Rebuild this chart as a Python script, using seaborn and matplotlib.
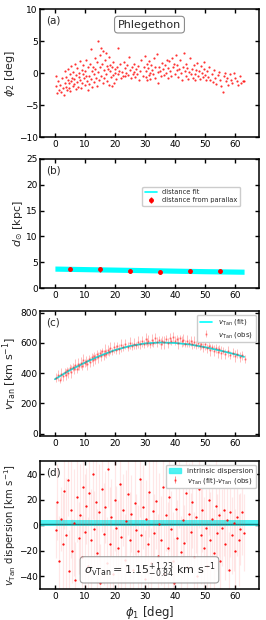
import numpy as np
import pandas as pd
import matplotlib
matplotlib.use("Agg")
import matplotlib.pyplot as plt
from matplotlib.lines import Line2D
from matplotlib.patches import Patch
import seaborn as sns

# ---- panel (a): stream track phi1 / phi2 (deg)
track_phi1 = [0.3, 0.5, 0.7, 1.0, 1.3, 1.6, 2.0, 2.3, 2.6, 3.0, 3.2, 3.4, 3.6, 3.8, 4.0, 4.2, 4.4, 4.6, 4.8, 5.0,
              5.1, 5.3, 5.5, 5.7, 5.9, 6.1, 6.3, 6.5, 6.7, 6.9, 7.1, 7.3, 7.5, 7.7, 7.9, 8.1, 8.3, 8.5, 8.7, 8.9,
              9.1, 9.3, 9.5, 9.7, 9.9, 10.1, 10.3, 10.5, 10.7, 10.9, 11.1, 11.3, 11.5, 11.7, 11.9, 12.1, 12.3, 12.5,
              12.7, 12.9, 13.1, 13.3, 13.5, 13.7, 13.9, 14.1, 14.3, 14.5, 14.7, 14.9, 15.1, 15.3, 15.5, 15.7, 15.9,
              16.1, 16.3, 16.5, 16.7, 16.9, 17.1, 17.3, 17.5, 17.7, 17.9, 18.1, 18.3, 18.5, 18.7, 18.9, 19.1, 19.3,
              19.5, 19.7, 19.9, 20.1, 20.3, 20.6, 20.9, 21.1, 21.4, 21.7, 22.0, 22.3, 22.6, 22.9, 23.2, 23.5, 23.8,
              24.1, 24.4, 24.7, 25.0, 25.3, 25.6, 25.9, 26.2, 26.5, 26.8, 27.1, 27.4, 27.7, 28.0, 28.4, 28.8, 29.2,
              29.6, 30.0, 30.2, 30.4, 30.6, 30.8, 31.0, 31.2, 31.4, 31.6, 31.8, 32.0, 32.3, 32.6, 32.9, 33.2, 33.5,
              33.9, 34.2, 34.5, 34.8, 35.1, 35.4, 35.7, 36.0, 36.3, 36.6, 36.9, 37.2, 37.5, 37.8, 38.1, 38.4, 38.7,
              39.0, 39.3, 39.6, 39.9, 40.2, 40.5, 40.8, 41.1, 41.4, 41.7, 42.0, 42.3, 42.6, 43.0, 43.2, 43.5, 43.8,
              44.1, 44.4, 44.7, 45.0, 45.3, 45.6, 45.9, 46.2, 46.5, 46.8, 47.1, 47.4, 47.7, 48.0, 48.3, 48.6, 48.9,
              49.2, 49.5, 49.8, 50.1, 50.4, 50.7, 51.0, 51.4, 51.8, 52.2, 52.6, 53.0, 53.4, 53.8, 54.2, 54.6, 55.0,
              55.4, 55.9, 56.2, 56.6, 57.0, 57.4, 57.8, 58.2, 58.6, 59.0, 59.5, 60.0, 60.5, 61.0, 61.5, 62.0, 62.5,
              63.0]
track_phi2 = [-2.0, -0.4, -3.1, -1.2, -2.6, -1.8, -2.9, -0.8, -2.4, -3.4, -1.5, 0.3, -2.1, -0.6, -2.7, -1.1, 0.6, -2.3,
              -1.6, -0.2, -2.8, 1.1, -1.3, -0.7, -2.0, 0.2, -1.7, -0.9, 1.4, -2.5, -0.3, 0.8, -1.4, -2.1, 0.1, -0.6,
              1.9, -1.0, -2.3, 0.5, -1.5, -0.2, 1.2, -0.8, -1.9, 0.3, -0.5, 2.1, -1.2, -2.6, 0.9, -0.4, -1.7, 1.5,
              3.8, -0.9, 0.4, -2.2, 1.0, -0.1, -1.4, 2.4, 0.6, -0.7, 1.7, -2.0, 5.0, 0.2, -1.1, 2.8, 0.9, 4.0, -0.4,
              1.4, -1.6, 3.5, 0.5, -0.8, 2.0, 3.1, -0.2, 1.1, -1.3, 0.7, 2.5, -1.9, 0.3, 1.3, -0.6, -2.0, 0.9, -0.3,
              1.8, -1.5, 0.1, 0.6, -0.9, 1.0, 4.0, -0.2, 0.4, 1.5, -0.7, 0.2, -0.4, 1.7, 0.8, -0.5, 0.0, 1.2, -0.3,
              2.6, 0.5, -0.8, 0.9, -0.1, 1.4, 0.2, -0.6, 0.7, -0.2, 1.1, -1.0, 0.4, 2.0, -0.4, 0.9, 2.7, -0.6, 0.3,
              1.5, -1.1, 0.8, -0.3, 1.9, 0.0, -0.9, 1.2, 0.5, -0.2, 2.3, 0.9, -0.7, 3.0, 0.2, -1.5, 1.0, 0.3, -0.5,
              1.6, 0.6, -0.3, 1.2, 0.0, 2.1, -0.8, 0.8, 1.9, 0.4, -0.4, 2.4, 0.9, 1.5, -0.2, 2.8, 0.5, 1.3, -0.6,
              0.7, 2.0, 0.1, -1.0, 1.0, 3.1, 0.4, -0.4, 1.5, 0.8, -0.9, 0.2, 2.3, -0.2, 0.6, -0.7, 1.2, -0.1, -1.0,
              0.5, 1.6, -0.5, 0.3, -0.9, 1.1, 0.0, -0.6, 0.7, 1.8, -0.3, -1.1, 0.4, -0.6, 0.9, -1.0, -0.2, -1.4, 0.5,
              -0.8, -1.7, -0.3, 0.2, -1.1, -2.0, -3.0, -0.5, 0.1, -1.3, -0.7, -1.9, -0.2, -1.0, -1.5, 0.0, -0.8,
              -1.2, -1.8, -0.4, -1.6, -1.3, -1.2]

# ---- panel (b): distance
dfit_phi1 = [0, 10, 20, 30, 40, 50, 63]
dfit_lo = [3.3, 3.2, 3.1, 3.0, 2.9, 2.8, 2.7]
dfit_hi = [4.3, 4.2, 4.1, 4.0, 3.9, 3.8, 3.7]
dpar_phi1 = [5, 15, 25, 35, 45, 55]
dpar_d = [3.8, 3.7, 3.3, 3.2, 3.3, 3.3]
dpar_err = [0.3, 0.5, 0.4, 0.4, 0.35, 0.3]

# ---- panel (c): tangential velocity
vfit_phi1 = [0, 5, 10, 15, 20, 25, 30, 35, 40, 45, 50, 55, 60, 63]
vfit_v = [360, 420, 470, 515, 553, 580, 597, 603, 600, 590, 572, 550, 525, 508]
vobs_phi1 = [0.4, 1.0, 1.6, 2.1, 2.7, 3.2, 3.6, 4.1, 4.5, 5.0, 5.4, 5.9, 6.3, 6.8, 7.2, 7.7, 8.1, 8.6, 9.0, 9.5,
             9.9, 10.4, 10.8, 11.3, 11.7, 12.2, 12.6, 13.1, 13.5, 14.0, 14.4, 14.9, 15.3, 15.8, 16.2, 16.7, 17.1,
             17.6, 18.0, 18.5, 19.0, 19.6, 20.2, 20.8, 21.5, 22.1, 22.8, 23.5, 24.2, 24.9, 25.6, 26.3, 27.0, 27.7,
             28.4, 29.1, 29.8, 30.2, 30.6, 31.1, 31.6, 32.2, 32.8, 33.4, 34.0, 34.6, 35.2, 35.8, 36.4, 37.0, 37.6,
             38.2, 38.8, 39.4, 40.0, 40.5, 41.0, 41.6, 42.2, 42.8, 43.4, 44.0, 44.6, 45.2, 45.8, 46.4, 47.0, 47.6,
             48.2, 48.8, 49.4, 50.0, 50.6, 51.2, 51.8, 52.4, 53.0, 53.6, 54.2, 54.8, 55.4, 56.0, 56.8, 57.6, 58.4,
             59.2, 60.0, 60.8, 61.6, 62.4, 63.2]
vobs_v = [370, 385, 355, 395, 380, 410, 390, 420, 400, 435, 410, 440, 425, 455, 430, 460, 445, 470, 450, 485,
          465, 480, 460, 495, 475, 505, 485, 515, 495, 525, 505, 535, 515, 545, 520, 550, 530, 555, 540, 565,
          545, 570, 555, 580, 560, 585, 570, 590, 575, 600, 580, 595, 585, 605, 590, 610, 595, 625, 600, 615,
          590, 620, 600, 630, 605, 620, 595, 615, 605, 625, 600, 630, 610, 640, 615, 625, 600, 630, 610, 620,
          595, 615, 600, 610, 590, 605, 585, 600, 580, 595, 570, 590, 565, 580, 555, 570, 550, 565, 540, 560,
          535, 550, 530, 545, 520, 535, 515, 530, 505, 520, 495]
vobs_err = [28, 35, 22, 40, 30, 26, 38, 24, 33, 29, 41, 25, 31, 36, 27, 39, 23, 34, 30, 42, 26, 32, 37, 24,
            35, 28, 40, 25, 33, 30, 38, 27, 36, 24, 31, 41, 29, 34, 26, 39, 23, 37, 30, 28, 35, 42, 25, 33, 31,
            38, 27, 36, 24, 40, 29, 34, 26, 41, 30, 35, 23, 39, 28, 37, 32, 25, 36, 30, 42, 27, 33, 38, 24, 35,
            31, 29, 40, 26, 34, 37, 23, 39, 28, 33, 30, 41, 25, 36, 29, 34, 27, 38, 31, 24, 40, 26, 35, 30, 37,
            28, 42, 25, 33, 36, 29, 31, 39, 27, 34, 30, 26]

# ---- panel (d): residuals v_Tan(fit) - v_Tan(obs)
res_phi1 = [0.3, 0.8, 1.4, 2.0, 2.6, 3.1, 3.7, 4.2, 4.7, 5.2, 5.8, 6.3, 6.8, 7.3, 7.9, 8.4, 8.9, 9.4, 10.0, 10.5,
            11.0, 11.5, 12.0, 12.6, 13.1, 13.6, 14.1, 14.6, 15.1, 15.7, 16.2, 16.7, 17.2, 17.8, 18.3, 18.8, 19.4,
            19.9, 20.5, 21.0, 21.6, 22.1, 22.7, 23.2, 23.8, 24.3, 24.9, 25.5, 26.0, 26.6, 27.1, 27.7, 28.2, 28.8,
            29.3, 29.9, 30.4, 30.9, 31.5, 32.0, 32.6, 33.1, 33.7, 34.2, 34.8, 35.3, 35.9, 36.4, 37.0, 37.5, 38.1,
            38.6, 39.2, 39.7, 40.3, 40.8, 41.4, 41.9, 42.5, 43.0, 43.6, 44.1, 44.7, 45.2, 45.8, 46.3, 46.9, 47.4,
            48.0, 48.5, 49.1, 49.6, 50.2, 50.7, 51.3, 51.8, 52.4, 52.9, 53.5, 54.0, 54.6, 55.1, 55.7, 56.2, 56.8,
            57.3, 57.9, 58.4, 59.0, 59.6, 60.1, 60.7, 61.2, 61.8, 62.3, 62.9]
res_dv = [-4, 18, -28, 5, -15, 27, -8, 35, -36, 12, -20, 2, -43, 22, -10, 8, -25, 30, -5, 15, -32, 25, -12, 40,
          -3, 18, -22, 10, -45, 28, -7, 14, -30, 44, -15, 6, -38, 20, -2, -18, 32, -9, 12, -27, 3, 24, -12, 9,
          -35, 17, -4, -20, 36, -8, 14, -42, 5, -15, 26, -30, 11, -6, 19, -24, 1, -12, 30, -38, 8, -18, 22, -3,
          -28, -45, 13, -10, 34, -21, 4, -14, 25, -33, 9, -5, 18, -25, 6, -40, 28, -8, 12, -18, -2, -32, 20, -12,
          5, -22, 15, -6, 8, -28, -2, 12, -15, 4, -35, 10, -8, 2, -20, 6, -12, -3, 10, -6]
res_err = [22, 30, 35, 25, 40, 30, 45, 28, 32, 38, 25, 42, 30, 35, 28, 40, 33, 36, 45, 30, 38, 25, 40, 35, 30,
           42, 35, 38, 30, 33, 40, 28, 36, 30, 45, 30, 35, 40, 33, 38, 30, 42, 28, 36, 40, 32, 38, 30, 35, 40,
           28, 36, 30, 44, 33, 38, 30, 40, 35, 28, 42, 30, 38, 33, 40, 35, 30, 40, 28, 36, 42, 30, 38, 35, 40,
           30, 36, 28, 42, 30, 38, 33, 40, 30, 36, 35, 28, 42, 30, 38, 33, 40, 30, 36, 28, 38, 30, 35, 40, 30,
           33, 38, 30, 36, 28, 40, 30, 35, 30, 38, 33, 30, 36, 28, 33, 30]
sigma_lo, sigma_mid, sigma_hi = -1.0, 1.15, 4.3

sns.set_style("ticks")
plt.rcParams['font.family'] = ['DejaVu Sans']
plt.rcParams['mathtext.fontset'] = 'dejavusans'
plt.rcParams.update({
    'xtick.direction': 'in', 'ytick.direction': 'in',
    'xtick.top': True, 'ytick.right': True,
    'xtick.labelsize': 6.5, 'ytick.labelsize': 6.5,
    'xtick.major.size': 3, 'ytick.major.size': 3,
    'xtick.major.width': 1, 'ytick.major.width': 1,
    'xtick.major.pad': 2, 'ytick.major.pad': 1.5,
    'axes.linewidth': 1.1, 'axes.edgecolor': 'black',
    'xtick.color': 'black', 'ytick.color': 'black',
})

fig = plt.figure(figsize=(2.66, 6.2), dpi=100)
left, width = 0.150, 0.824
ax_a = fig.add_axes([left, 0.779, width, 0.206])
ax_b = fig.add_axes([left, 0.535, width, 0.209])
ax_c = fig.add_axes([left, 0.297, width, 0.201])
ax_d = fig.add_axes([left, 0.050, width, 0.206])

lab_fs = 8
for ax, tag in zip([ax_a, ax_b, ax_c, ax_d], ['(a)', '(b)', '(c)', '(d)']):
    ax.set_xlim(-5, 68)
    ax.set_xticks([0, 10, 20, 30, 40, 50, 60])
    ax.text(0.03, 0.95, tag, transform=ax.transAxes, ha='left', va='top', fontsize=7.5)

# (a)
df_a = pd.DataFrame({'phi1': track_phi1, 'phi2': track_phi2})
sns.scatterplot(data=df_a, x='phi1', y='phi2', ax=ax_a, color='red', s=2.5, linewidth=0, alpha=0.8)
ax_a.set_ylim(-10, 10)
ax_a.set_yticks([-10, -5, 0, 5, 10])
ax_a.set_xlabel('')
ax_a.set_ylabel(r'$\phi_2$ [deg]', fontsize=lab_fs, labelpad=1)
ax_a.text(0.5, 0.88, 'Phlegethon', transform=ax_a.transAxes, ha='center', va='center', fontsize=8,
          bbox=dict(boxstyle='round,pad=0.3', fc='white', ec='0.55', lw=0.8))

# (b)
ax_b.fill_between(dfit_phi1, dfit_lo, dfit_hi, color='cyan', lw=0)
ax_b.errorbar(dpar_phi1, dpar_d, yerr=dpar_err, fmt='o', color='red', ms=2.5, elinewidth=1, capsize=0)
ax_b.set_ylim(0, 25)
ax_b.set_yticks([0, 5, 10, 15, 20, 25])
ax_b.set_ylabel(r'$d_{\odot}$ [kpc]', fontsize=lab_fs, labelpad=1)
hb = [Line2D([], [], color='cyan', lw=1.2),
      ax_b.errorbar([], [], yerr=[], fmt='o', color='red', ms=2.5, elinewidth=1)]
ax_b.legend(hb, ['distance fit', 'distance from parallax'], loc='upper right', bbox_to_anchor=(0.93, 0.81),
            fontsize=4.8, frameon=True, handlelength=1.8, borderpad=0.4, labelspacing=0.3, framealpha=1)

# (c)
ax_c.errorbar(vobs_phi1, vobs_v, yerr=vobs_err, fmt='.', color='red', ms=1.5, elinewidth=0.6,
              alpha=0.3, capsize=0)
df_c = pd.DataFrame({'phi1': vfit_phi1, 'v': vfit_v})
sns.lineplot(data=df_c, x='phi1', y='v', ax=ax_c, color='#1fd8d8', lw=1.3)
ax_c.set_ylim(-15, 810)
ax_c.set_yticks([0, 200, 400, 600, 800])
ax_c.set_xlabel('')
ax_c.set_ylabel(r'$v_{\rm Tan}$ [km s$^{-1}$]', fontsize=lab_fs, labelpad=1)
hc = [Line2D([], [], color='cyan', lw=1.2),
      ax_c.errorbar([], [], yerr=[], fmt='.', color='red', ms=1.5, elinewidth=0.6, alpha=0.3)]
ax_c.legend(hc, [r'$v_{\rm Tan}$ (fit)', r'$v_{\rm Tan}$ (obs)'], loc='upper right', fontsize=5,
            frameon=True, handlelength=1.8, borderpad=0.4, labelspacing=0.3, framealpha=1)

# (d)
ax_d.axhspan(sigma_lo, sigma_hi, color='#33f0f0', alpha=0.85, lw=0)
ax_d.axhline(sigma_mid, color='#117a7a', lw=1)
ax_d.errorbar(res_phi1, res_dv, yerr=res_err, fmt='.', color='red', ms=1.2, elinewidth=0.9,
              ecolor=(1, 0.3, 0.3, 0.13), capsize=0)
ax_d.set_ylim(-50, 50)
ax_d.set_yticks([-40, -20, 0, 20, 40])
ax_d.set_ylabel(r'$v_{\rm Tan}$ dispersion [km s$^{-1}$]', fontsize=7.3, labelpad=1)
ax_d.set_xlabel(r'$\phi_1$ [deg]', fontsize=lab_fs + 0.5, labelpad=2)
hd = [Patch(color='#33f0f0', alpha=0.85),
      ax_d.errorbar([], [], yerr=[], fmt='.', color='red', ms=1.5, elinewidth=0.6, alpha=0.5)]
ax_d.legend(hd, ['intrinsic dispersion', r'$v_{\rm Tan}$ (fit)-$v_{\rm Tan}$ (obs)'], loc='upper right',
            fontsize=5, frameon=True, handlelength=1.8, borderpad=0.4, labelspacing=0.3, framealpha=1)
ax_d.text(0.5, 0.15, r'$\sigma_{\rm vTan} = 1.15^{+1.23}_{-0.84}$ km s$^{-1}$', transform=ax_d.transAxes,
          ha='center', va='center', fontsize=8,
          bbox=dict(boxstyle='round,pad=0.3', fc='white', ec='0.55', lw=0.8, alpha=0.85))

fig.savefig('out.png', dpi=100)
